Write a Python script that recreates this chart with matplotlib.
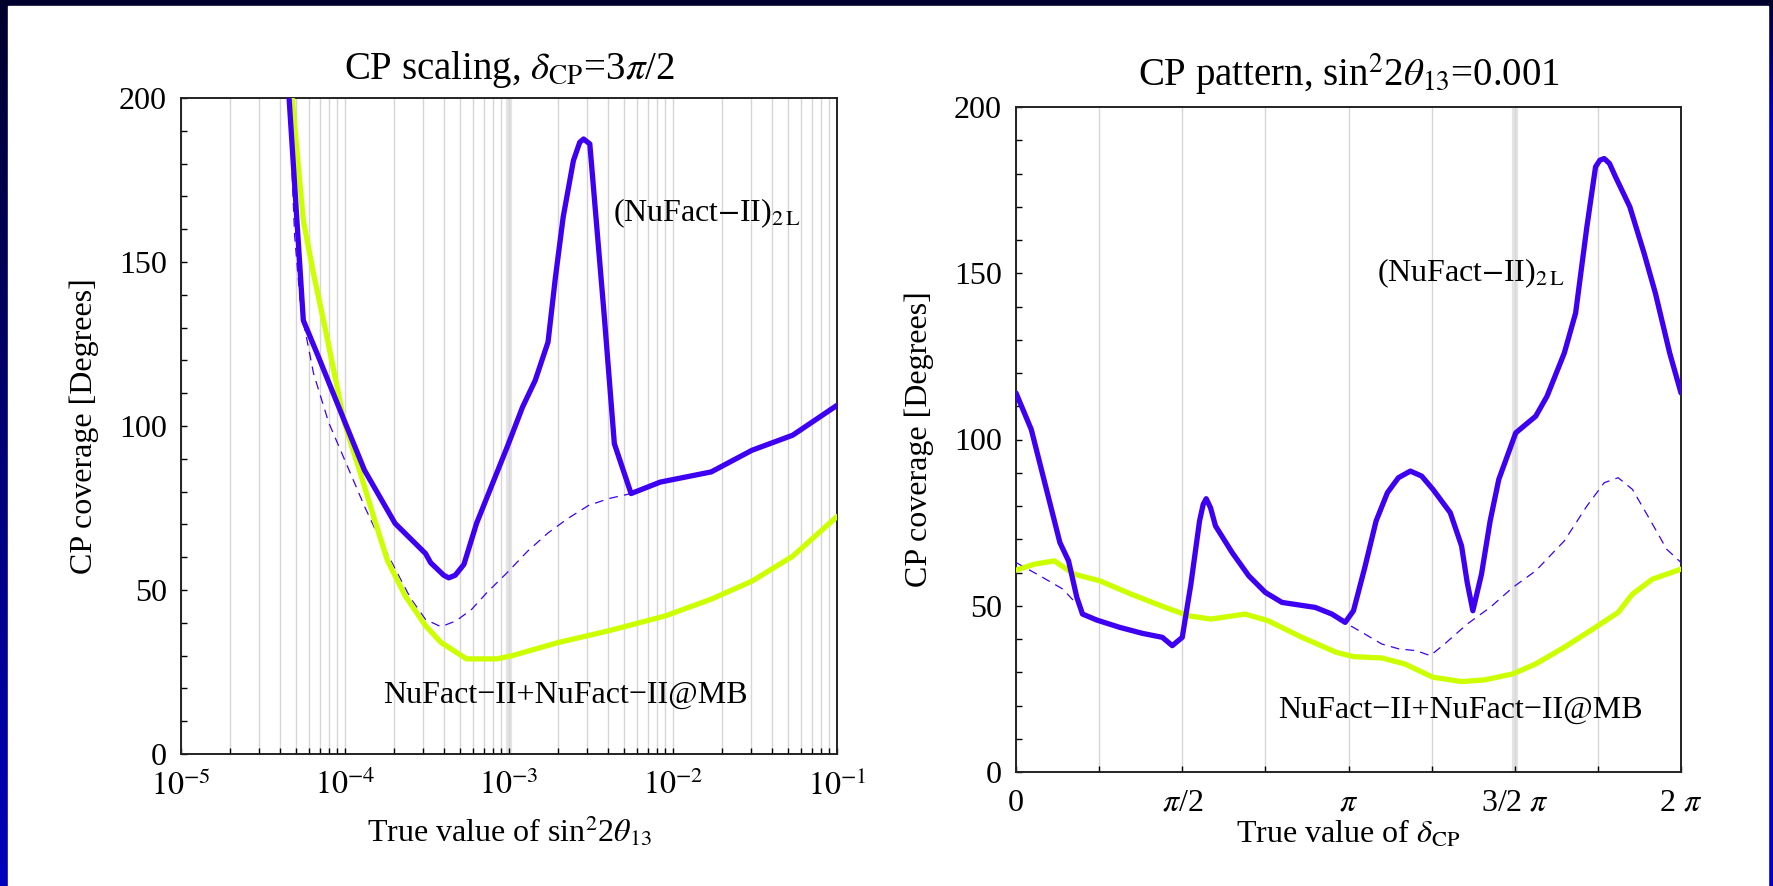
import numpy as np
import matplotlib
matplotlib.use("Agg")
import matplotlib.pyplot as plt
from matplotlib.patches import Rectangle


# ---------------------------------------------
# data (left panel)
# x = true value of sin^2 2theta13, y = CP coverage in degrees
# ---------------------------------------------
s13_blue = [4.56e-5, 5.57e-5, 6.90e-5, 9.89e-5, 1.315e-4, 2.02e-4, 3.10e-4, 3.33e-4,
            4.0e-4, 4.29e-4, 4.7e-4, 5.31e-4, 6.35e-4, 9.75e-4, 1.21e-3, 1.445e-3, 1.73e-3,
            1.92e-3, 2.14e-3, 2.47e-3, 2.7e-3, 2.85e-3, 3.11e-3, 3.80e-3, 4.39e-3, 5.55e-3,
            8.36e-3, 1.71e-2, 3.03e-2, 5.37e-2, 0.1]
cov_blue = [200, 132.2, 121, 101.7, 86.5, 70.3, 61.1, 58.3,
            54.5, 53.7, 54.5, 57.8, 70.4, 93.6, 105.8, 113.9, 125.6,
            145.4, 163.7, 180.9, 186.5, 187.5, 186, 134.2, 94.6, 79.4,
            82.9, 86, 92.6, 97.2, 106.3]

s13_green = [4.76e-5, 5.57e-5, 6.43e-5, 7.69e-5, 9.89e-5, 1.225e-4, 1.517e-4, 1.815e-4,
             2.33e-4, 3.10e-4, 3.85e-4, 5.51e-4, 8.45e-4, 1.047e-3, 2.0e-3, 4.08e-3,
             8.97e-3, 1.71e-2, 3.03e-2, 5.37e-2, 0.1]
cov_green = [200, 162.6, 146.4, 128.1, 101.2, 86.5, 71.3, 59,
             48.2, 39.1, 34, 29, 29, 30, 34, 37.6,
             42.1, 47.2, 52.7, 60.3, 72.4]

s13_dash = [4.56e-5, 4.93e-5, 5.37e-5, 6.43e-5, 7.96e-5, 9.89e-5, 1.315e-4, 1.63e-4,
            2.02e-4, 2.51e-4, 3.10e-4, 3.85e-4, 4.76e-4, 5.92e-4, 7.33e-4, 9.75e-4,
            1.297e-3, 1.73e-3, 2.30e-3, 3.06e-3, 4.08e-3, 5.55e-3]
cov_dash = [200, 158, 136, 116, 101, 90, 75.5, 65.5,
            56.5, 47.5, 41, 38.8, 40.6, 44.1, 49.2, 55.3,
            61.8, 67.4, 71.9, 75.8, 77.9, 79.4]

# ---------------------------------------------
# right panel: x = true delta_CP in units of pi
# ---------------------------------------------
dcp_blue = [0, 0.046, 0.089, 0.132, 0.158, 0.183, 0.2, 0.243, 0.312, 0.38, 0.44, 0.47,
            0.5, 0.526, 0.552, 0.563, 0.572, 0.585, 0.6, 0.65, 0.7, 0.75, 0.8, 0.9, 0.95,
            0.99, 1.015, 1.049, 1.083, 1.117, 1.15, 1.186, 1.22, 1.254, 1.306, 1.323, 1.34,
            1.357, 1.374, 1.4, 1.426, 1.452, 1.503, 1.563, 1.597, 1.649, 1.683, 1.717,
            1.743, 1.756, 1.769, 1.785, 1.803, 1.846, 1.889, 1.923, 1.966, 2.0]
cov2_blue = [114, 103, 86, 69, 63.5, 52.5, 47.5, 45.7, 43.5, 41.7, 40.5, 38,
             40.5, 56.5, 75.5, 80.5, 82.2, 79.5, 74, 66, 59, 54, 51, 49.5, 47.5,
             45, 48.5, 61.5, 75.5, 84, 88.5, 90.5, 89, 85, 78, 73, 68,
             57, 48.5, 59.5, 75.5, 88, 102, 107, 113, 126, 138, 164,
             182, 184, 184.5, 183, 179, 170, 156, 144, 126, 114]

dcp_green = [0, 0.055, 0.115, 0.175, 0.252, 0.346, 0.449, 0.518, 0.586, 0.689, 0.758,
             0.86, 0.963, 1.015, 1.1, 1.169, 1.254, 1.34, 1.409, 1.494, 1.563, 1.649,
             1.735, 1.811, 1.854, 1.914, 2.0]
cov2_green = [60.7, 62.5, 63.5, 59.5, 57.5, 53.5, 49.5, 47, 46, 47.5, 45.5,
              40.5, 36, 34.7, 34.3, 32.5, 28.5, 27.2, 27.7, 29.5, 32.5, 37.5,
              43, 48, 53.5, 58, 61]

# the dashed curve is hidden under the thick lines between ~0.2 pi and ~0.93 pi
dcp_dash = [0, 0.072, 0.141, 0.192, np.nan, 0.93, 0.946, 0.997, 1.049, 1.1, 1.152, 1.203,
            1.246, 1.289, 1.357, 1.426, 1.494, 1.563, 1.649, 1.717, 1.769, 1.811,
            1.854, 1.906, 1.957, 2.0]
cov2_dash = [63, 59, 55, 49.5, np.nan, 48.5, 47.5, 44.5, 41.5, 38.5, 37, 36.5,
             35, 38.5, 44.5, 49.5, 55.5, 60.5, 69.5, 80, 87, 88.5,
             85, 76, 67, 63]

left_xticks = [1e-5, 1e-4, 1e-3, 1e-2, 1e-1]
left_xlabels = [r"$10^{-5}$", r"$10^{-4}$", r"$10^{-3}$", r"$10^{-2}$", r"$10^{-1}$"]
right_xticks = [0, 0.5, 1, 1.5, 2]
right_xlabels = ["0", r"$\pi$/2", r"$\pi$", r"3/2 $\pi$", r"2 $\pi$"]


# ---------------------------------
# style
# ---------------------------------
plt.rcParams['font.family'] = ['Liberation Serif', 'DejaVu Serif']
plt.rcParams['mathtext.fontset'] = 'stix'

BLUE = '#3d00f2'
GREEN = '#ccff00'
GRID = '#d6d6d6'
BAND = '#e4e4e4'
FS = 23

W, H = 1773, 886
fig = plt.figure(figsize=(W / 100, H / 100), dpi=100)

# navy -> blue frame behind the white page
bg = fig.add_axes([0, 0, 1, 1])
yy, xx = np.mgrid[0:1:120j, 0:1:240j]
t = np.clip(0.9 * yy + 6 * xx * yy, 0, 1)
c0 = np.array([0.0, 0.0, 0.18])
c1 = np.array([0.0, 0.0, 0.80])
grad = c0[None, None, :] * (1 - t[..., None]) + c1[None, None, :] * t[..., None]
bg.imshow(grad, extent=[0, 1, 0, 1], aspect='auto', origin='upper', interpolation='bilinear')
bg.add_patch(Rectangle((8 / W, 0), (1768 - 8) / W, (H - 6) / H, color='white', transform=bg.transAxes))
bg.set_xlim(0, 1)
bg.set_ylim(0, 1)
bg.axis('off')


def axes_px(x0, y0, x1, y1):
    return fig.add_axes([x0 / W, 1 - y1 / H, (x1 - x0) / W, (y1 - y0) / H])


def style_axes(ax):
    for sp in ax.spines.values():
        sp.set_linewidth(1.4)
        sp.set_color('#222222')
    ax.set_ylim(0, 200)
    ax.set_yticks([0, 50, 100, 150, 200])
    ax.set_yticks(np.arange(0, 201, 10), minor=True)
    ax.tick_params(which='both', direction='in', length=4, width=1, top=False, right=False,
                   labelsize=FS, pad=10)
    ax.tick_params(axis='x', which='major', pad=12)
    ax.set_ylabel("CP coverage [Degrees]", fontsize=FS)


def curves(ax, x_dash, y_dash, x_green, y_green, x_blue, y_blue):
    ax.plot(x_dash, y_dash, color=BLUE, lw=0.9, dashes=(7, 5), zorder=3)
    ax.plot(x_green, y_green, color=GREEN, lw=3.8, zorder=4,
            solid_joinstyle='round', solid_capstyle='round')
    ax.plot(x_blue, y_blue, color=BLUE, lw=3.8, zorder=5,
            solid_joinstyle='round', solid_capstyle='round')


# ---------------------------------
# left panel
# ---------------------------------
ax1 = axes_px(181, 98, 837, 754)
style_axes(ax1)
ax1.set_xscale('log')
ax1.set_xlim(1e-5, 1e-1)
ax1.set_xticks(left_xticks)
ax1.set_xticklabels(left_xlabels)
ax1.grid(True, which='both', axis='x', color=GRID, lw=1)
ax1.axvline(1e-3, color=BAND, lw=4.5, zorder=1)
curves(ax1, s13_dash, cov_dash, s13_green, cov_green, s13_blue, cov_blue)
ax1.text(4.3e-3, 165, r"(NuFact$-$II)$_{2\,\mathrm{L}}$", fontsize=FS, va='center')
ax1.text(1.7e-4, 18, "NuFact\u2212II+NuFact\u2212II@MB", fontsize=FS, va='center')
ax1.set_title(r"CP scaling, $\delta_{\rm CP}$=3$\pi$/2", fontsize=28, pad=14)
ax1.set_xlabel(r"True value of sin$^2$2$\theta_{13}$", fontsize=FS, va='baseline')
ax1.xaxis.set_label_coords(0.5, -0.134)
ax1.yaxis.set_label_coords(-0.125, 0.5)

# ---------------------------------
# right panel
# ---------------------------------
ax2 = axes_px(1016, 107, 1681, 772)
style_axes(ax2)
ax2.set_xlim(0, 2)
ax2.set_xticks(right_xticks)
ax2.set_xticklabels(right_xlabels)
ax2.set_xticks(np.arange(0, 2.01, 0.25), minor=True)
ax2.grid(True, which='both', axis='x', color=GRID, lw=1)
ax2.axvline(1.5, color=BAND, lw=4.5, zorder=1)
curves(ax2, dcp_dash, cov2_dash, dcp_green, cov2_green, dcp_blue, cov2_blue)
ax2.text(1.086, 150, r"(NuFact$-$II)$_{2\,\mathrm{L}}$", fontsize=FS, va='center')
ax2.text(0.788, 18.6, "NuFact\u2212II+NuFact\u2212II@MB", fontsize=FS, va='center')
ax2.set_title(r"CP pattern, sin$^2$2$\theta_{13}$=0.001", fontsize=28, pad=15)
ax2.set_xlabel(r"True value of $\delta_{\rm CP}$", fontsize=FS, va='baseline')
ax2.xaxis.set_label_coords(0.5, -0.107)
ax2.yaxis.set_label_coords(-0.123, 0.5)

fig.savefig("out.png", dpi=100)
